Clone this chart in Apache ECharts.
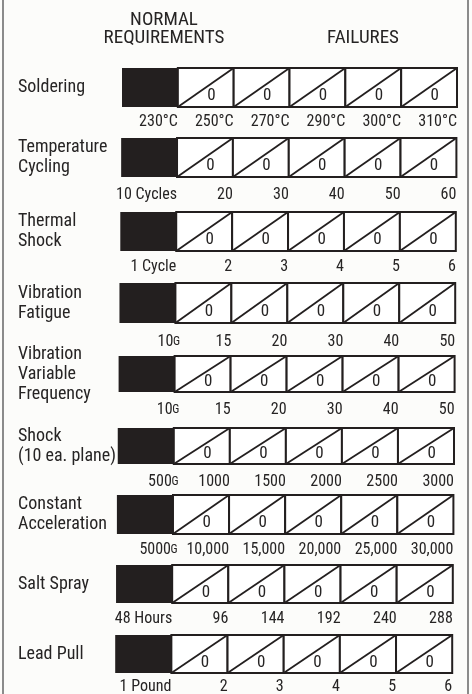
<!DOCTYPE html>
<html>
<head>
<meta charset="utf-8">
<script src="https://cdn.jsdelivr.net/npm/echarts@6/dist/echarts.min.js"></script>
<style>
  html, body { margin: 0; padding: 0; background: #fcfcfa; }
  #chart { width: 472px; height: 694px; }
</style>
</head>
<body>
<div id="chart"></div>
<script>
// test names, one row each
const rowNames = ['Soldering', 'Temperature\nCycling', 'Thermal\nShock', 'Vibration\nFatigue',
  'Vibration\nVariable\nFrequency', 'Shock\n(10 ea. plane)', 'Constant\nAcceleration', 'Salt Spray', 'Lead Pull']

// normal requirement level (end of black block)
const normalLevels = ['230°C', '10 Cycles', '1 Cycle', '10 G', '10 G', '500 G', '5000 G', '48 Hours', '1 Pound']

// stepped-up test levels, one per failure cell
const stepLevels = [
  ['250°C', '270°C', '290°C', '300°C', '310°C'],
  ['20', '30', '40', '50', '60'],
  ['2', '3', '4', '5', '6'],
  ['15', '20', '30', '40', '50'],
  ['15', '20', '30', '40', '50'],
  ['1000', '1500', '2000', '2500', '3000'],
  ['10,000', '15,000', '20,000', '25,000', '30,000'],
  ['96', '144', '192', '240', '288'],
  ['2', '3', '4', '5', '6']
]

// failures at each stepped level
const failures = [
  [0, 0, 0, 0, 0],
  [0, 0, 0, 0, 0],
  [0, 0, 0, 0, 0],
  [0, 0, 0, 0, 0],
  [0, 0, 0, 0, 0],
  [0, 0, 0, 0, 0],
  [0, 0, 0, 0, 0],
  [0, 0, 0, 0, 0],
  [0, 0, 0, 0, 0]
]

// layout of each row block (px)
const tops = [68, 138, 212, 283, 356, 428, 495, 565, 635]
const bottoms = [107, 177, 251, 323, 392, 464, 534, 603, 673]
const labelGaps = [7, 10, 8, 11, 10, 10, 8, 8, 6]

const ink = '#231f1f'
const textInk = '#262424'
const font = 'Roboto'
const stretch = 'condensed'

const chart = echarts.init(document.getElementById('chart'))

function renderCell(params, api) {
  const p = api.coord([api.value(0), api.value(1)])
  const size = api.size([1, 1])
  const w = size[0]
  const h = size[1]
  const x = p[0]
  const y = p[1] - h / 2
  return {
    type: 'group',
    children: [
      { type: 'rect', shape: { x: x, y: y, width: w, height: h }, style: { fill: '#fff', stroke: ink, lineWidth: 2 } },
      { type: 'line', shape: { x1: x, y1: y + h, x2: x + w, y2: y }, style: { stroke: ink, lineWidth: 1.8 } },
      {
        type: 'text',
        style: {
          text: String(api.value(2)), x: x + w * 0.6, y: y + h * 0.72,
          align: 'center', verticalAlign: 'middle', fill: textInk,
          fontStyle: stretch, fontSize: 17, fontFamily: font
        }
      }
    ]
  }
}

function levelLabel(text) {
  // the "G" unit is set small and hangs past the tick
  if (/ G$/.test(text)) {
    return '{n|' + text.slice(0, -2) + '}{g|\u2009G}'
  }
  return '{n|' + text + '}'
}

const grids = []
const xAxes = []
const yAxes = []
const series = []

rowNames.forEach((name, i) => {
  const left = 122 - 0.85 * i
  const right = 457 - 0.6 * i
  grids.push({
    left: left, width: right - left, top: tops[i], height: bottoms[i] - tops[i],
    outerBoundsMode: 'none'
  })
  const labels = [normalLevels[i]].concat(stepLevels[i])
  xAxes.push({
    type: 'value', gridIndex: i, min: 0, max: 6, interval: 1,
    axisLine: { show: false }, axisTick: { show: false }, splitLine: { show: false },
    axisLabel: {
      margin: labelGaps[i], align: 'right', showMinLabel: false,
      formatter: (v) => v >= 1 ? levelLabel(labels[v - 1]) : '',
      rich: {
        n: { fontFamily: font, fontStyle: stretch, fontSize: 16, color: textInk },
        g: { fontFamily: font, fontStyle: stretch, fontSize: 12, color: textInk, width: 0, align: 'left', padding: [0, 0, 0, 2] }
      }
    }
  })
  yAxes.push({
    type: 'category', gridIndex: i, data: [name],
    axisLine: { show: false }, axisTick: { show: false },
    axisLabel: {
      align: 'left', margin: left - 18, fontFamily: font, fontStyle: stretch,
      fontSize: 18, lineHeight: 20, color: textInk
    }
  })
  series.push({
    type: 'bar', xAxisIndex: i, yAxisIndex: i, barWidth: '100%',
    data: [1], itemStyle: { color: ink }, silent: true
  })
  series.push({
    type: 'custom', xAxisIndex: i, yAxisIndex: i,
    encode: { x: 0, y: 1 },
    renderItem: renderCell,
    data: failures[i].map((f, k) => [k + 1, name, f]),
    silent: true
  })
})

const head = {
  align: 'center', verticalAlign: 'middle', fill: textInk,
  fontStyle: stretch, fontSize: 19, fontFamily: font
}

chart.setOption({
  animation: false,
  backgroundColor: '#fcfcfa',
  grid: grids,
  xAxis: xAxes,
  yAxis: yAxes,
  series: series,
  graphic: [
    { type: 'line', shape: { x1: 3, y1: 0, x2: 3, y2: 694 }, style: { stroke: '#666', lineWidth: 1.5 } },
    { type: 'line', shape: { x1: 468, y1: 0, x2: 468, y2: 694 }, style: { stroke: '#666', lineWidth: 1.5 } },
    { type: 'text', x: 164, y: 20, style: Object.assign({ text: 'NORMAL' }, head) },
    { type: 'text', x: 164, y: 38, style: Object.assign({ text: 'REQUIREMENTS' }, head) },
    { type: 'text', x: 363, y: 38, style: Object.assign({ text: 'FAILURES' }, head) }
  ]
})
</script>
</body>
</html>
